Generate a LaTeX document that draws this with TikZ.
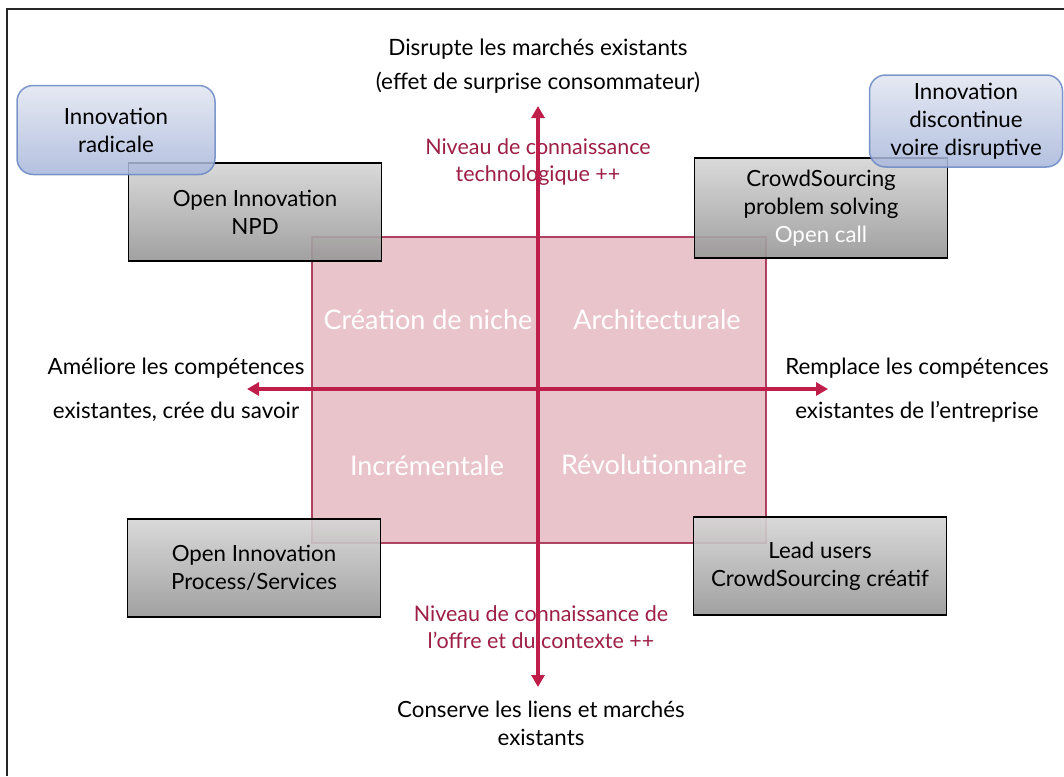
\documentclass[tikz,border=0pt]{standalone}
\usepackage{fontspec}
\setmainfont{Lato}
\usepackage{xcolor}
\usetikzlibrary{arrows.meta}
\definecolor{cAxe}{HTML}{C01E4A}
\definecolor{cAxeTxt}{HTML}{9E1F45}
\definecolor{cQuad}{HTML}{D994A2}
\definecolor{cQuadB}{HTML}{A3284B}
\definecolor{cBleuB}{HTML}{6A88C4}
\definecolor{cBleuH}{HTML}{E2E6F1}
\definecolor{cBleuS}{HTML}{A7B6DB}
\definecolor{cGrisH}{HTML}{D6D6D6}
\definecolor{cGrisS}{HTML}{979797}

\begin{document}
\begin{tikzpicture}[x=1pt, y=-1pt,
  every node/.style={font=\fontsize{22.3}{28}\selectfont, align=center, inner sep=0pt},
  gris/.style={draw=black, line width=1.8pt, top color=cGrisH, bottom color=cGrisS, fill opacity=0.9, text opacity=1, minimum width=253pt, minimum height=98pt},
  bleu/.style={draw=cBleuB, line width=1.5pt, rounded corners=16pt, top color=cBleuH, bottom color=cBleuS, opacity=0.85, text opacity=1},
  matbox/.style={draw=cQuadB, line width=1.4pt, fill=cQuad, fill opacity=0.55, draw opacity=0.85, minimum width=454pt, minimum height=306pt},
  rouge/.style={text=cAxeTxt, font=\fontsize{21.5}{27}\selectfont},
  cote/.style={font=\fontsize{22.4}{44}\selectfont},
  quad/.style={text=white, font=\fontsize{27}{30}\selectfont},
  axe/.style={{Triangle[length=12pt,width=13pt]}-{Triangle[length=12pt,width=13pt]}, line width=3.5pt, draw=cAxe},
  cadre/.style={draw=black!85, line width=2pt}
]
\useasboundingbox (0,0) rectangle (1064,776);
\fill[white] (0,0) rectangle (1064,776);
\draw[cadre] (7,776) -- (7,9) -- (1064,9);

% Matrix
\node[matbox] (matrice) at (539,390) {};

% Gray boxes
\node[gris] (npd) at (255,212) {Open Innovation\\NPD};
\node[gris, minimum height=100pt] (crowd) at (821,208) {CrowdSourcing\\problem solving\\\textcolor{white}{Open call}};
\node[gris] (process) at (254,568) {Open Innovation\\Process/Services};
\node[gris] (lead) at (820,566) {Lead users\\CrowdSourcing créatif};

% Blue boxes
\node[bleu, minimum width=198pt, minimum height=89pt] (radicale) at (116,130) {Innovation\\radicale};
\node[bleu, minimum width=193pt, minimum height=92pt] (discontinue) at (966,121) {Innovation\\discontinue\\voire disruptive};

% Axis labels
\node[rouge] (techno) at (538,162) {Niveau de connaissance\\technologique ++};
\node[rouge] (offre) at (541,627) {Niveau de connaissance de\\l’offre et du contexte ++};

% Axes
\coordinate (nord) at (538,106);
\coordinate (sud) at (538,687);
\coordinate (ouest) at (247,389);
\coordinate (est) at (828,389);
\draw[axe] (ouest) -- (est);
\draw[axe] (sud) -- (nord);

% Ends of the axes
\node[font=\fontsize{22.5}{34}\selectfont] (disrupte) at (538,66) {Disrupte les marchés existants\\(effet de surprise consommateur)};
\node (conserve) at (541,723) {Conserve les liens et marchés\\existants};
\node[cote] (ameliore) at (176,390) {Améliore les compétences\\existantes, crée du savoir};
\node[cote] (remplace) at (917,390) {Remplace les compétences\\existantes de l’entreprise};

% Quadrants
\node[quad] (niche) at (428,320) {Création de niche};
\node[quad] (archi) at (657,320) {Architecturale};
\node[quad] (incr) at (427,466) {Incrémentale};
\node[quad] (revo) at (654,465) {Révolutionnaire};
\end{tikzpicture}
\end{document}
